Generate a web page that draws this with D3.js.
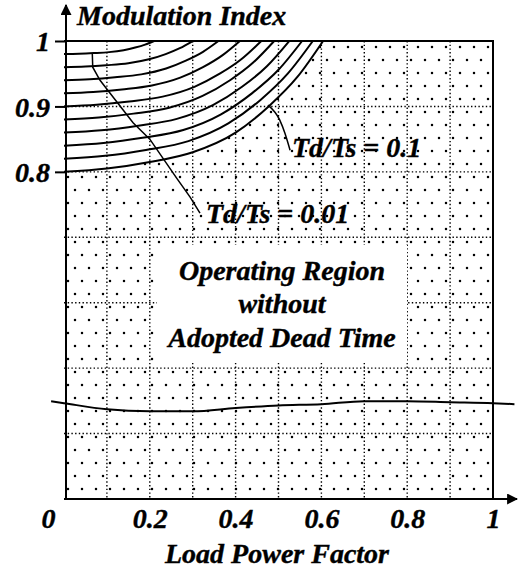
<!DOCTYPE html>
<html>
<head>
<meta charset="utf-8">
<script src="https://cdn.jsdelivr.net/npm/d3@7"></script>
<style>
  body { margin: 0; background: #fff; }
  svg text { font-family: "Liberation Serif", "Times New Roman", serif; font-weight: bold; font-style: italic; fill: #000; stroke: #000; stroke-width: 0.4; }
</style>
</head>
<body>
<div id="chart"></div>
<script>
const WIDTH = 518;
const HEIGHT = 572;
const LEFT = 64, RIGHT = 493, TOP = 41, BOTTOM = 499;
const FONT = 28;

// axis ticks and grid
const xTicks = [0, 0.2, 0.4, 0.6, 0.8, 1];
const yTicks = [0.8, 0.9, 1];
const gridX = [0.1, 0.2, 0.3, 0.4, 0.5, 0.6, 0.7, 0.8, 0.9];
const gridY = [0.4, 0.5, 0.6, 0.7, 0.8, 0.9];

// modulation-index contours (one x list and one M list per level)
const levels = [0.80, 0.82, 0.84, 0.86, 0.88, 0.90, 0.92, 0.94, 0.96, 0.98];
const contourX = [
  [0, 0.1, 0.2, 0.3, 0.4, 0.477, 0.544, 0.604],
  [0, 0.096, 0.191, 0.29, 0.383, 0.458, 0.522, 0.58],
  [0, 0.092, 0.183, 0.278, 0.366, 0.438, 0.5, 0.555],
  [0, 0.087, 0.173, 0.263, 0.347, 0.415, 0.473, 0.525],
  [0, 0.081, 0.162, 0.245, 0.323, 0.387, 0.441, 0.49],
  [0, 0.076, 0.152, 0.23, 0.304, 0.363, 0.414, 0.46],
  [0, 0.068, 0.135, 0.205, 0.271, 0.324, 0.369, 0.41],
  [0, 0.06, 0.119, 0.18, 0.238, 0.284, 0.324, 0.36],
  [0, 0.05, 0.099, 0.15, 0.198, 0.237, 0.27, 0.30],
  [0, 0.035, 0.069, 0.105, 0.139, 0.166, 0.189, 0.21]
];
const contourM = [
  [0.80, 0.805, 0.815, 0.83, 0.86, 0.90, 0.945, 1.0],
  [0.82, 0.8245, 0.8335, 0.847, 0.874, 0.91, 0.9505, 1.0],
  [0.84, 0.844, 0.852, 0.864, 0.888, 0.92, 0.956, 1.0],
  [0.86, 0.8635, 0.8705, 0.881, 0.902, 0.93, 0.9615, 1.0],
  [0.88, 0.883, 0.889, 0.898, 0.916, 0.94, 0.967, 1.0],
  [0.90, 0.9025, 0.9075, 0.915, 0.93, 0.95, 0.9725, 1.0],
  [0.92, 0.922, 0.926, 0.932, 0.944, 0.96, 0.978, 1.0],
  [0.94, 0.9415, 0.9445, 0.949, 0.958, 0.97, 0.9835, 1.0],
  [0.96, 0.961, 0.963, 0.966, 0.972, 0.98, 0.989, 1.0],
  [0.98, 0.9805, 0.9815, 0.983, 0.986, 0.99, 0.9945, 1.0]
];

// Td/Ts = 0.01 boundary and Td/Ts = 0.1 pointer
const td001X = [0.066, 0.067, 0.084, 0.107, 0.161, 0.2, 0.263, 0.294, 0.317];
const td001M = [0.98, 0.96, 0.940, 0.9205, 0.875, 0.85, 0.79, 0.7615, 0.737];
const td01X = [0.4755, 0.503, 0.515, 0.527];
const td01M = [0.902, 0.879, 0.859, 0.833];

// lower limit line
const limitX = [-0.03, 0, 0.1, 0.2, 0.3, 0.4, 0.5, 0.6, 0.7, 0.8, 0.9, 1.0, 1.05];
const limitM = [0.4495, 0.4465, 0.437, 0.434, 0.434, 0.439, 0.443, 0.445, 0.4495, 0.4495, 0.448, 0.4465, 0.445];

const x = d3.scaleLinear().domain([0, 1]).range([LEFT, RIGHT]);
const y = d3.scaleLinear().domain([0.3, 1]).range([BOTTOM, TOP]);

const svg = d3.select("#chart").append("svg")
  .attr("width", WIDTH).attr("height", HEIGHT);
const defs = svg.append("defs");

// stipple pattern
const pat = defs.append("pattern").attr("id", "stip")
  .attr("patternUnits", "userSpaceOnUse")
  .attr("width", 14).attr("height", 26)
  .attr("x", LEFT).attr("y", TOP);
pat.append("circle").attr("cx", 4).attr("cy", 6).attr("r", 1.25).attr("fill", "#000");
pat.append("circle").attr("cx", 11).attr("cy", 19).attr("r", 1.25).attr("fill", "#000");

const line = d3.line().x(d => x(d[0])).y(d => y(d[1])).curve(d3.curveMonotoneX);
const straight = d3.line().x(d => x(d[0])).y(d => y(d[1]));
const zipPts = (xs, ms) => xs.map((v, i) => [v, ms[i]]);

// region above the outer contour stays white
const outer = zipPts(contourX[0], contourM[0]);
const area = d3.area().x(d => x(d[0])).y0(y(1)).y1(d => y(d[1])).curve(d3.curveMonotoneX);

const BOX = { x: 157, y: 245, w: 250, h: 117 };

const mask = defs.append("mask").attr("id", "stipMask");
mask.append("rect").attr("x", LEFT).attr("y", TOP)
  .attr("width", RIGHT - LEFT).attr("height", BOTTOM - TOP).attr("fill", "#fff");
mask.append("path").attr("d", area(outer)).attr("fill", "#000");
mask.append("rect").attr("x", LEFT).attr("y", TOP - 2)
  .attr("width", x(contourX[0][contourX[0].length - 1]) - LEFT).attr("height", 3).attr("fill", "#000");
mask.append("rect").attr("x", BOX.x).attr("y", BOX.y)
  .attr("width", BOX.w).attr("height", BOX.h).attr("fill", "#000");

svg.append("rect").attr("x", LEFT).attr("y", TOP)
  .attr("width", RIGHT - LEFT).attr("height", BOTTOM - TOP)
  .attr("fill", "url(#stip)").attr("mask", "url(#stipMask)");

// dotted grid
const gridMask = defs.append("mask").attr("id", "gridMask");
gridMask.append("rect").attr("width", WIDTH).attr("height", HEIGHT).attr("fill", "#fff");
gridMask.append("rect").attr("x", BOX.x).attr("y", BOX.y)
  .attr("width", BOX.w).attr("height", BOX.h).attr("fill", "#000");
const grid = svg.append("g").attr("mask", "url(#gridMask)")
  .attr("stroke", "#000").attr("stroke-width", 1.4).attr("stroke-dasharray", "1.4,2.3");
grid.selectAll(".gx").data(gridX).join("line")
  .attr("x1", d => x(d)).attr("x2", d => x(d)).attr("y1", TOP).attr("y2", BOTTOM);
grid.selectAll(".gy").data(gridY).join("line")
  .attr("x1", LEFT).attr("x2", RIGHT).attr("y1", d => y(d)).attr("y2", d => y(d));

// frame
svg.append("path")
  .attr("d", `M${LEFT},${TOP}H${RIGHT}V${BOTTOM}`)
  .attr("fill", "none").attr("stroke", "#000").attr("stroke-width", 2);

// contours
svg.append("g").selectAll("path").data(levels).join("path")
  .attr("d", (d, i) => line(zipPts(contourX[i], contourM[i])))
  .attr("fill", "none").attr("stroke", "#000").attr("stroke-width", 2);

svg.append("path").attr("d", straight(zipPts(td001X, td001M)))
  .attr("fill", "none").attr("stroke", "#000").attr("stroke-width", 1.5);
svg.append("path").attr("d", line(zipPts(td01X, td01M)))
  .attr("fill", "none").attr("stroke", "#000").attr("stroke-width", 1.5);

svg.append("path").attr("d", line(zipPts(limitX, limitM)))
  .attr("fill", "none").attr("stroke", "#000").attr("stroke-width", 2);

// arrows
defs.append("marker").attr("id", "arrow")
  .attr("viewBox", "0 0 10 10").attr("refX", 9).attr("refY", 5)
  .attr("markerWidth", 11).attr("markerHeight", 11).attr("markerUnits", "userSpaceOnUse")
  .attr("orient", "auto")
  .append("path").attr("d", "M0,0L10,5L0,10Z").attr("fill", "#000");

svg.append("line").attr("x1", LEFT + 2).attr("x2", LEFT + 2).attr("y1", BOTTOM).attr("y2", 5)
  .attr("stroke", "#000").attr("stroke-width", 2).attr("marker-end", "url(#arrow)");
svg.append("line").attr("x1", LEFT).attr("x2", 517).attr("y1", BOTTOM).attr("y2", BOTTOM)
  .attr("stroke", "#000").attr("stroke-width", 2).attr("marker-end", "url(#arrow)");

// y axis ticks/labels
const yAxis = svg.append("g").attr("transform", `translate(${LEFT + 2},0)`)
  .call(d3.axisLeft(y).tickValues(yTicks).tickSize(11).tickPadding(5)
    .tickFormat(d => d === 1 ? "1" : d3.format(".1f")(d)));
yAxis.select(".domain").remove();
yAxis.selectAll(".tick line").attr("stroke", "#000").attr("stroke-width", 2);
yAxis.selectAll(".tick text").attr("font-size", FONT).attr("font-family", null).attr("dy", "0.35em");

// x axis labels
const xAxis = svg.append("g").attr("transform", `translate(0,${BOTTOM})`)
  .call(d3.axisBottom(x).tickValues(xTicks).tickSize(0).tickPadding(9)
    .tickFormat(d => d === 0 || d === 1 ? String(d) : d3.format(".1f")(d)));
xAxis.select(".domain").remove();
xAxis.selectAll(".tick text").attr("font-size", FONT).attr("font-family", null)
  .attr("dx", d => d === 0 ? -16 : 0);

// titles and annotations
svg.append("text").attr("x", 77).attr("y", 25).attr("font-size", FONT).text("Modulation Index");
svg.append("text").attr("x", 277).attr("y", 563).attr("text-anchor", "middle")
  .attr("font-size", FONT).text("Load Power Factor");
svg.append("text").attr("x", 292).attr("y", 157).attr("font-size", FONT).text("Td/Ts = 0.1");
svg.append("text").attr("x", 206).attr("y", 223).attr("font-size", FONT).text("Td/Ts = 0.01");

const label = svg.append("text").attr("text-anchor", "middle").attr("font-size", FONT);
[["Operating Region", 280], ["without", 313], ["Adopted Dead Time", 347]].forEach(([t, yy]) => {
  label.append("tspan").attr("x", 282).attr("y", yy).text(t);
});
</script>
</body>
</html>
